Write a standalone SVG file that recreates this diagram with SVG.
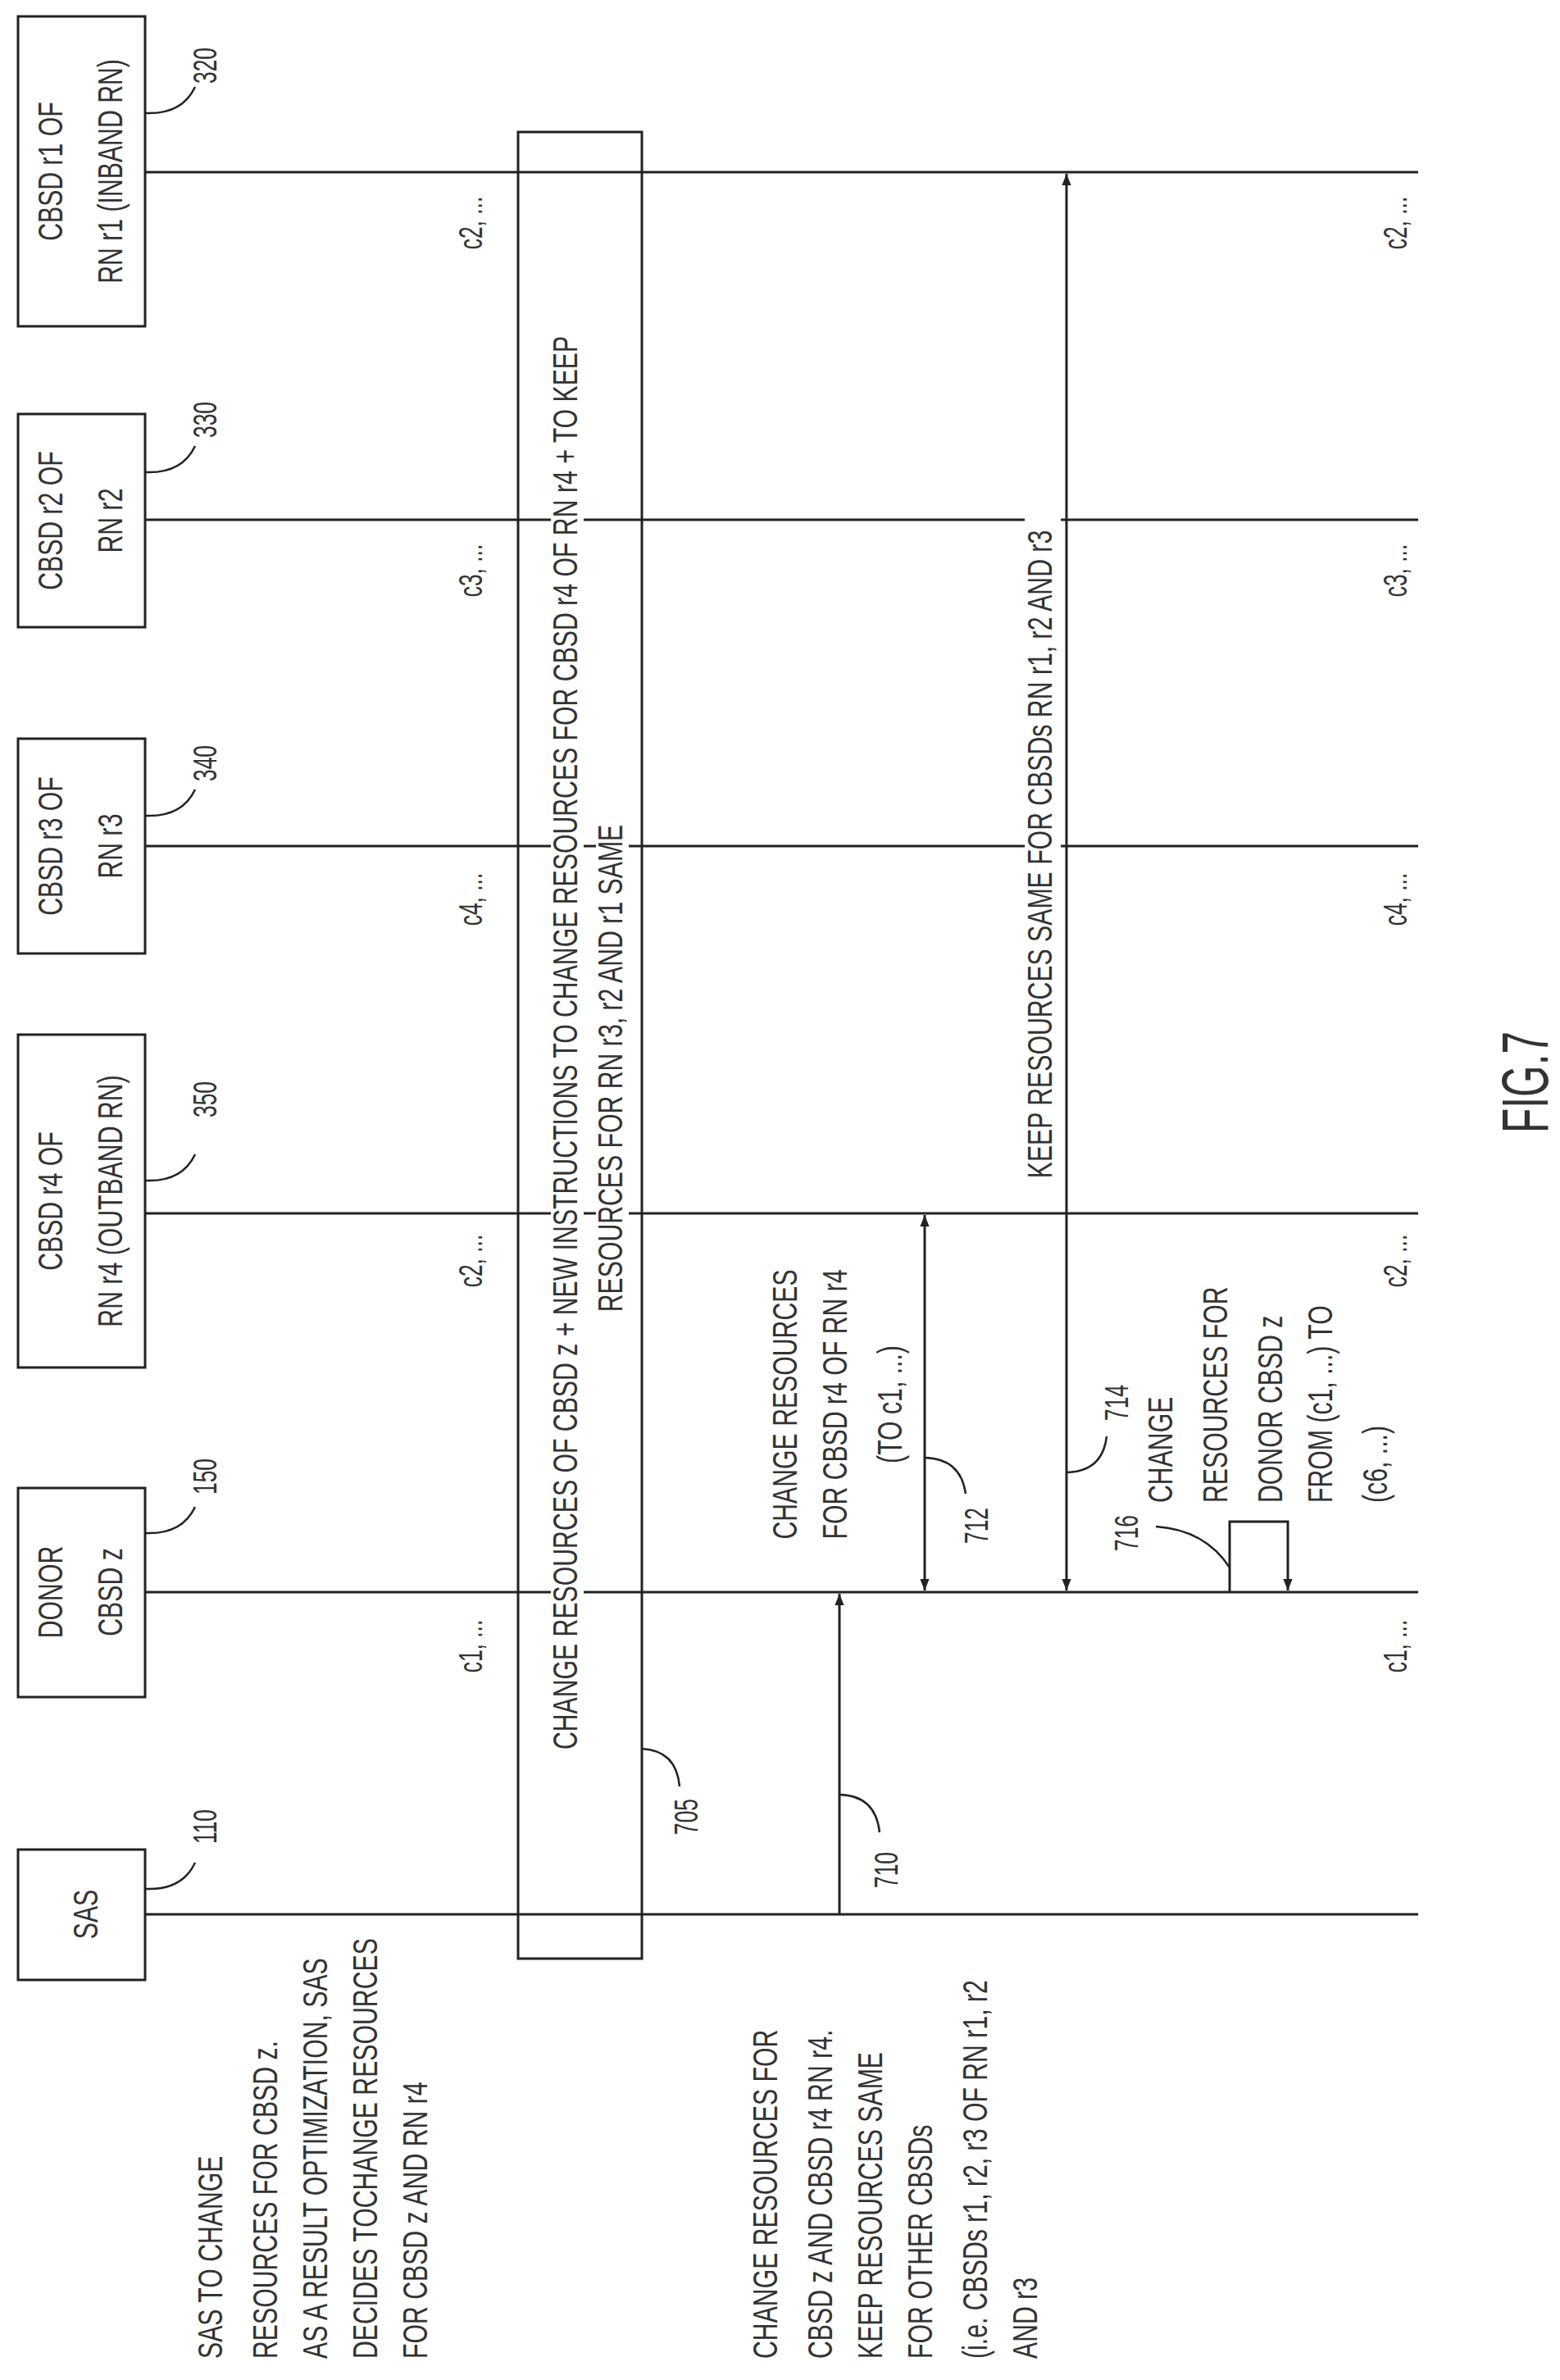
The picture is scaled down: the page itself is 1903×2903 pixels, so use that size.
<svg xmlns="http://www.w3.org/2000/svg" width="1903" height="2903" viewBox="0 0 1903 2903">
<style>
text{font-family:"Liberation Sans",Arial,sans-serif;font-size:42px;fill:#333}
.m{text-anchor:middle}
.n{font-size:40px}
.box{fill:#fff;stroke:#222;stroke-width:3}
.ln{stroke:#222;stroke-width:3;fill:none}
.ld{stroke:#222;stroke-width:2.5;fill:none}
</style>
<defs>
<marker id="ah" viewBox="0 0 10 10" refX="10" refY="5" markerWidth="14" markerHeight="14" markerUnits="userSpaceOnUse" orient="auto-start-reverse">
<path d="M0,1 L10,5 L0,9 z" fill="#222"/>
</marker>
</defs>
<g id="lifelines">
<line class="ln" x1="177" y1="210" x2="1730" y2="210"/>
<line class="ln" x1="177" y1="634" x2="1730" y2="634"/>
<line class="ln" x1="177" y1="1032" x2="1730" y2="1032"/>
<line class="ln" x1="177" y1="1480" x2="1730" y2="1480"/>
<line class="ln" x1="177" y1="1942" x2="1730" y2="1942"/>
<line class="ln" x1="177" y1="2335" x2="1730" y2="2335"/>
</g>
<g id="n320"><rect class="box" x="22" y="20" width="155" height="378"/>
<text class="m" transform="translate(76,209) rotate(-90) scale(0.72,1)">CBSD r1 OF</text>
<text class="m" transform="translate(149,209) rotate(-90) scale(0.72,1)">RN  r1 (INBAND RN)</text></g>
<g id="n330"><rect class="box" x="22" y="505" width="155" height="260"/>
<text class="m" transform="translate(76,635) rotate(-90) scale(0.72,1)">CBSD r2 OF</text>
<text class="m" transform="translate(149,635) rotate(-90) scale(0.72,1)">RN  r2</text></g>
<g id="n340"><rect class="box" x="22" y="901" width="155" height="262"/>
<text class="m" transform="translate(76,1032) rotate(-90) scale(0.72,1)">CBSD r3 OF</text>
<text class="m" transform="translate(149,1032) rotate(-90) scale(0.72,1)">RN  r3</text></g>
<g id="n350"><rect class="box" x="22" y="1262" width="155" height="406"/>
<text class="m" transform="translate(76,1465) rotate(-90) scale(0.72,1)">CBSD r4 OF</text>
<text class="m" transform="translate(149,1465) rotate(-90) scale(0.72,1)">RN  r4 (OUTBAND RN)</text></g>
<g id="n150"><rect class="box" x="22" y="1815" width="155" height="255"/>
<text class="m" transform="translate(76,1942) rotate(-90) scale(0.72,1)">DONOR</text>
<text class="m" transform="translate(149,1942) rotate(-90) scale(0.72,1)">CBSD z</text></g>
<g id="n110"><rect class="box" x="22" y="2256" width="155" height="159"/>
<text class="m" transform="translate(119,2335) rotate(-90) scale(0.72,1)">SAS</text></g>
<g id="refs">
<path class="ld" d="M177,138 Q222,140 238,106"/><text class="m n" transform="translate(264,80) rotate(-90) scale(0.66,1)">320</text>
<path class="ld" d="M177,576 Q222,578 238,544"/><text class="m n" transform="translate(264,512) rotate(-90) scale(0.66,1)">330</text>
<path class="ld" d="M177,995 Q222,997 238,963"/><text class="m n" transform="translate(264,931) rotate(-90) scale(0.66,1)">340</text>
<path class="ld" d="M177,1440 Q222,1442 238,1408"/><text class="m n" transform="translate(264,1341) rotate(-90) scale(0.66,1)">350</text>
<path class="ld" d="M177,1870 Q222,1872 238,1838"/><text class="m n" transform="translate(264,1801) rotate(-90) scale(0.66,1)">150</text>
<path class="ld" d="M177,2304 Q222,2306 238,2272"/><text class="m n" transform="translate(264,2228) rotate(-90) scale(0.66,1)">110</text>
<path class="ld" d="M783,2133 Q825,2135 829,2179"/><text class="m n" transform="translate(851,2216) rotate(-90) scale(0.66,1)">705</text>
<path class="ld" d="M1024,2189 Q1068,2190 1073,2235"/><text class="m n" transform="translate(1095,2281) rotate(-90) scale(0.66,1)">710</text>
<path class="ld" d="M1128,1778 Q1172,1779 1178,1822"/><text class="m n" transform="translate(1205,1861) rotate(-90) scale(0.66,1)">712</text>
<path class="ld" d="M1301,1796 Q1345,1795 1350,1752"/><text class="m n" transform="translate(1376,1711) rotate(-90) scale(0.66,1)">714</text>
<path class="ld" d="M1410,1862 Q1470,1866 1500,1912"/><text class="m n" transform="translate(1388,1870) rotate(-90) scale(0.66,1)">716</text>
</g>
<g id="labels">
<text class="m n" transform="translate(588,272) rotate(-90) scale(0.66,1)">c2, ...</text>
<text class="m n" transform="translate(588,696) rotate(-90) scale(0.66,1)">c3, ...</text>
<text class="m n" transform="translate(588,1097) rotate(-90) scale(0.66,1)">c4, ...</text>
<text class="m n" transform="translate(588,1538) rotate(-90) scale(0.66,1)">c2, ...</text>
<text class="m n" transform="translate(588,2008) rotate(-90) scale(0.66,1)">c1, ...</text>
<text class="m n" transform="translate(1716,272) rotate(-90) scale(0.66,1)">c2, ...</text>
<text class="m n" transform="translate(1716,696) rotate(-90) scale(0.66,1)">c3, ...</text>
<text class="m n" transform="translate(1716,1097) rotate(-90) scale(0.66,1)">c4, ...</text>
<text class="m n" transform="translate(1716,1538) rotate(-90) scale(0.66,1)">c2, ...</text>
<text class="m n" transform="translate(1716,2008) rotate(-90) scale(0.66,1)">c1, ...</text>
</g>
<g id="n705">
<rect x="632" y="161" width="151" height="2228" fill="none" stroke="#222" stroke-width="3"/>
<rect x="672" y="345" width="40" height="1855" fill="#fff"/>
<rect x="727" y="1010" width="40" height="590" fill="#fff"/>
<text class="m" transform="translate(704,1272) rotate(-90) scale(0.72,1)">CHANGE RESOURCES OF CBSD z + NEW INSTRUCTIONS TO CHANGE RESOURCES FOR CBSD r4 OF RN r4 + TO KEEP</text>
<text class="m" transform="translate(759,1303) rotate(-90) scale(0.72,1)">RESOURCES FOR RN r3, r2 AND r1 SAME</text>
</g>
<g id="connectors">
<line class="ln" x1="1024" y1="2335" x2="1024" y2="1944" marker-end="url(#ah)"/>
<line class="ln" x1="1128" y1="1940" x2="1128" y2="1482" marker-start="url(#ah)" marker-end="url(#ah)"/>
<line class="ln" x1="1301" y1="1940" x2="1301" y2="212" marker-start="url(#ah)" marker-end="url(#ah)"/>
<path class="ln" d="M1500,1942 V1856 H1571 V1940" marker-end="url(#ah)"/>
</g>
<g id="msgtexts">
<text class="m" transform="translate(972,1713) rotate(-90) scale(0.72,1)">CHANGE RESOURCES</text>
<text class="m" transform="translate(1033,1713) rotate(-90) scale(0.72,1)">FOR CBSD r4 OF RN r4</text>
<text class="m" transform="translate(1100,1713) rotate(-90) scale(0.72,1)">(TO c1, ...)</text>
<rect x="1250" y="615" width="44" height="855" fill="#fff"/>
<text class="m" transform="translate(1283,1042) rotate(-90) scale(0.72,1)">KEEP RESOURCES SAME FOR CBSDs RN r1, r2 AND r3</text>
<text transform="translate(1430,1833) rotate(-90) scale(0.72,1)">CHANGE</text>
<text transform="translate(1497,1833) rotate(-90) scale(0.72,1)">RESOURCES FOR</text>
<text transform="translate(1564,1833) rotate(-90) scale(0.72,1)">DONOR CBSD z</text>
<text transform="translate(1625,1833) rotate(-90) scale(0.72,1)">FROM (c1, ...) TO</text>
<text transform="translate(1692,1833) rotate(-90) scale(0.72,1)">(c6, ...)</text>
</g>
<g id="notes">
<text transform="translate(271,2877) rotate(-90) scale(0.72,1)">SAS TO CHANGE</text>
<text transform="translate(338,2877) rotate(-90) scale(0.72,1)">RESOURCES FOR CBSD z.</text>
<text transform="translate(399,2877) rotate(-90) scale(0.72,1)">AS A RESULT OPTIMIZATION, SAS</text>
<text transform="translate(460,2877) rotate(-90) scale(0.72,1)">DECIDES TOCHANGE RESOURCES</text>
<text transform="translate(521,2877) rotate(-90) scale(0.72,1)">FOR CBSD z AND RN r4</text>
<text transform="translate(948,2877) rotate(-90) scale(0.72,1)">CHANGE RESOURCES FOR</text>
<text transform="translate(1015,2877) rotate(-90) scale(0.72,1)">CBSD z AND CBSD r4 RN r4.</text>
<text transform="translate(1076,2877) rotate(-90) scale(0.72,1)">KEEP RESOURCES SAME</text>
<text transform="translate(1137,2877) rotate(-90) scale(0.72,1)">FOR OTHER CBSDs</text>
<text transform="translate(1204,2877) rotate(-90) scale(0.72,1)">(i.e. CBSDs r1, r2, r3 OF RN r1, r2</text>
<text transform="translate(1265,2877) rotate(-90) scale(0.72,1)">AND r3</text>
<text class="m" style="font-size:80px" transform="translate(1888,1320) rotate(-90) scale(0.62,1)">FIG.7</text>
</g>
</svg>
